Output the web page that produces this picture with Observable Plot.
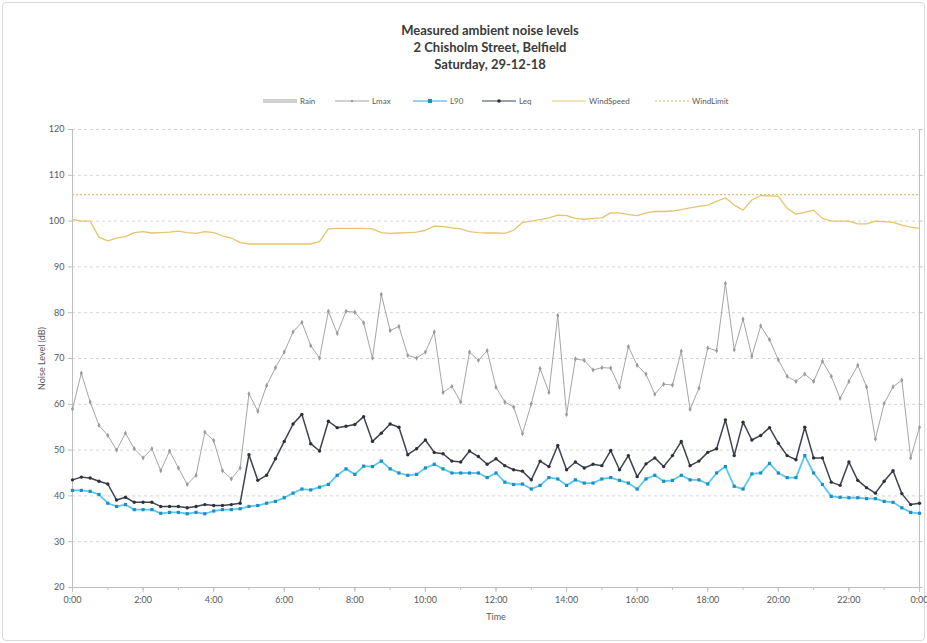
<!DOCTYPE html>
<html>
<head>
<meta charset="utf-8">
<script src="https://cdn.jsdelivr.net/npm/d3@7"></script>
<script src="https://cdn.jsdelivr.net/npm/@observablehq/plot@0.6"></script>
<style>
  body { margin: 0; background: #fff; font-family: Lato, "Open Sans", sans-serif; }
  #wrap { position: relative; width: 927px; height: 643px; overflow: hidden; }
  #border { position: absolute; left: 2px; top: 2px; width: 921px; height: 637px; border: 1px solid #d9d9d9; border-radius: 4px; }
  .title { position: absolute; left: 0; width: 980px; text-align: center; font-weight: bold; font-size: 13px; color: #3a3a3a; }
  #legend { position: absolute; top: 95px; left: 0; width: 927px; height: 14px; font-size: 8px; color: #595959; }
  .li { position: absolute; top: 0; display: flex; align-items: center; height: 12px; }
  #chart { position: absolute; left: 0; top: 112px; }
</style>
</head>
<body>
<div id="wrap">
  <div id="border"></div>
  <div class="title" style="top:22px">Measured ambient noise levels</div>
  <div class="title" style="top:39px">2 Chisholm Street, Belfield</div>
  <div class="title" style="top:56px">Saturday, 29-12-18</div>
  <div id="legend"></div>
  <div id="chart"></div>
</div>
<script>
// ---- data (15-minute readings, 0:00 to 24:00) ----
const seriesNames = ["Rain", "Lmax", "L90", "Leq", "WindSpeed", "WindLimit"];
const xTickLabels = ["0:00","2:00","4:00","6:00","8:00","10:00","12:00","14:00","16:00","18:00","20:00","22:00","0:00"];
const yTicks = [20, 30, 40, 50, 60, 70, 80, 90, 100, 110, 120];

const lmax = [59.0,66.8,60.5,55.4,53.2,50.0,53.7,50.3,48.3,50.3,45.5,49.8,46.1,42.5,44.5,53.9,52.1,45.5,43.7,46.1,
  62.3,58.5,64.1,68.0,71.4,75.8,77.9,72.8,70.1,80.3,75.5,80.3,80.1,77.8,70.1,84.0,76.1,77.0,70.7,70.1,
  71.4,75.8,62.6,63.9,60.5,71.4,69.6,71.7,63.7,60.5,59.4,53.6,60.1,67.8,62.6,79.4,57.8,69.9,69.6,67.5,
  68.0,67.9,63.7,72.6,68.5,66.6,62.2,64.4,64.2,71.6,58.9,63.5,72.3,71.7,86.4,71.9,78.6,70.5,77.1,74.1,
  69.7,66.1,65.0,66.6,65.0,69.4,66.1,61.3,65.0,68.5,63.8,52.4,60.2,63.8,65.3,48.3,55.0];

const leq = [43.5,44.1,43.9,43.2,42.6,39.1,39.7,38.6,38.6,38.6,37.7,37.7,37.7,37.4,37.7,38.1,37.9,37.9,38.1,38.4,
  49.0,43.4,44.5,48.1,51.9,55.7,57.8,51.4,49.8,56.3,54.9,55.2,55.6,57.3,51.9,53.7,55.7,55.0,49.0,50.3,
  52.2,49.5,49.2,47.6,47.4,49.8,48.6,46.9,48.1,46.6,45.7,45.4,43.5,47.6,46.4,51.0,45.7,47.4,46.1,46.9,
  46.6,49.9,45.7,48.8,44.2,47.0,48.3,46.4,48.8,51.9,46.6,47.6,49.5,50.3,56.6,48.8,56.1,52.2,53.2,54.9,
  51.5,48.8,47.9,55.0,48.3,48.3,43.0,42.3,47.4,43.4,41.8,40.6,43.2,45.5,40.5,38.1,38.4];

const l90 = [41.2,41.2,41.0,40.3,38.4,37.7,38.1,37.0,37.0,37.0,36.2,36.4,36.4,36.1,36.4,36.1,36.7,37.0,37.0,37.2,
  37.7,37.9,38.4,38.8,39.6,40.6,41.5,41.3,41.9,42.5,44.5,45.9,44.7,46.5,46.4,47.6,45.9,45.0,44.5,44.7,
  46.1,46.9,45.9,45.0,45.0,45.0,45.0,44.0,45.0,43.0,42.5,42.6,41.5,42.3,44.0,43.7,42.3,43.5,42.8,42.8,
  43.7,44.0,43.4,42.8,41.5,43.7,44.5,43.2,43.4,44.5,43.5,43.5,42.6,45.0,46.4,42.1,41.5,44.8,45.0,47.1,
  45.0,44.0,44.0,48.8,45.0,42.5,39.9,39.7,39.6,39.6,39.4,39.4,38.8,38.6,37.4,36.4,36.2];

const windSpeed = [100.4,100.0,100.0,96.5,95.7,96.3,96.6,97.5,97.7,97.4,97.5,97.6,97.8,97.5,97.3,97.7,97.5,96.8,96.3,95.3,
  95.0,95.0,95.0,95.0,95.0,95.0,95.0,95.0,95.5,98.3,98.4,98.4,98.4,98.4,98.3,97.5,97.3,97.4,97.5,97.6,
  98.0,98.9,98.8,98.5,98.3,97.7,97.5,97.4,97.4,97.3,98.0,99.7,100.0,100.3,100.7,101.3,101.2,100.6,100.4,100.6,
  100.7,101.8,101.8,101.4,101.2,101.8,102.1,102.1,102.2,102.5,102.9,103.2,103.5,104.3,105.1,103.5,102.4,104.6,105.6,105.5,
  105.4,102.8,101.5,101.9,102.4,100.6,100.0,100.0,100.0,99.4,99.4,100.0,99.9,99.7,99.1,98.7,98.4];

const windLimit = 105.8;

// time of each reading in hours (category axis)
const hours = lmax.map((_, i) => i / 4);
const rows = hours.map((h, i) => ({h, lmax: lmax[i], leq: leq[i], l90: l90[i], wind: windSpeed[i]}));

const colors = {Rain: "#d0d0d0", Lmax: "#a6a6a6", L90: "#2aa9e0", Leq: "#3e4350", WindSpeed: "#e6c46e", WindLimit: "#f2b67e"};

const fmt = d => xTickLabels[Math.round(d / 2)];

const chart = Plot.plot({
  width: 927,
  height: 531,
  marginLeft: 72,
  marginRight: 8,
  marginTop: 17,
  marginBottom: 56,
  style: {fontFamily: "Lato, 'Open Sans', sans-serif", fontSize: "9px", color: "#595959", background: "transparent"},
  x: {type: "linear", domain: [0, 24], label: null},
  y: {type: "linear", domain: [20, 120], label: null},
  marks: [
    Plot.ruleY(yTicks.slice(1), {stroke: "#d4d4d4", strokeDasharray: "3,3"}),
    Plot.ruleX([0], {stroke: "#bfbfbf"}),
    Plot.ruleX([24], {stroke: "#bfbfbf"}),
    Plot.ruleY([20], {stroke: "#bfbfbf"}),
    Plot.ruleY(yTicks, {x1: 24, x2: 24.1, stroke: "#bfbfbf"}),
    Plot.axisY({ticks: yTicks, tickSize: 4, tickPadding: 4, stroke: "#bfbfbf", label: "Noise Level (dB)", labelAnchor: "center", labelArrow: "none", labelOffset: 34, fill: "#595959"}),
    Plot.axisX({ticks: d3.range(0, 24.01, 1), tickSize: 3, tickFormat: () => "", stroke: "#bfbfbf", label: null}),
    Plot.axisX({ticks: d3.range(0, 24.01, 2), tickSize: 5, tickPadding: 4, tickFormat: fmt, stroke: "#bfbfbf", label: "Time", labelAnchor: "center", labelArrow: "none", labelOffset: 32, fill: "#595959"}),
    Plot.ruleY([windLimit], {stroke: colors.WindLimit, strokeWidth: 1.2, strokeDasharray: "2,2"}),
    Plot.lineY(rows, {x: "h", y: "wind", stroke: colors.WindSpeed, strokeWidth: 1.3}),
    Plot.lineY(rows, {x: "h", y: "lmax", stroke: colors.Lmax, strokeWidth: 1}),
    Plot.dot(rows, {x: "h", y: "lmax", r: 1.6, fill: "#9a9a9a", symbol: "diamond"}),
    Plot.lineY(rows, {x: "h", y: "l90", stroke: "#5cc8f0", strokeWidth: 1.8}),
    Plot.dot(rows, {x: "h", y: "l90", r: 1.8, fill: "#1b8fc4", symbol: "square"}),
    Plot.lineY(rows, {x: "h", y: "leq", stroke: colors.Leq, strokeWidth: 1.5}),
    Plot.dot(rows, {x: "h", y: "leq", r: 1.7, fill: "#2c303a"})
  ]
});
document.getElementById("chart").appendChild(chart);

// legend
const legendPos = [263, 335, 413, 482, 552, 655];
const leg = document.getElementById("legend");
seriesNames.forEach((name, i) => {
  const item = document.createElement("div");
  item.className = "li";
  item.style.left = legendPos[i] + "px";
  let dash = "", w = 1.2, marker = "";
  if (name === "Rain") { w = 4; }
  if (name === "WindLimit") dash = 'stroke-dasharray="2,2"';
  if (name === "L90") marker = `<rect x="15" y="4" width="4" height="4" fill="#1b8fc4"/>`;
  if (name === "Leq") marker = `<circle cx="17" cy="6" r="1.8" fill="#2c303a"/>`;
  if (name === "Lmax") marker = `<circle cx="17" cy="6" r="1.2" fill="#9a9a9a"/>`;
  item.innerHTML = `<svg width="34" height="12"><line x1="0" x2="34" y1="6" y2="6" stroke="${colors[name]}" stroke-width="${w}" ${dash}/>${marker}</svg><span style="margin-left:3px">${name}</span>`;
  leg.appendChild(item);
});
</script>
</body>
</html>
